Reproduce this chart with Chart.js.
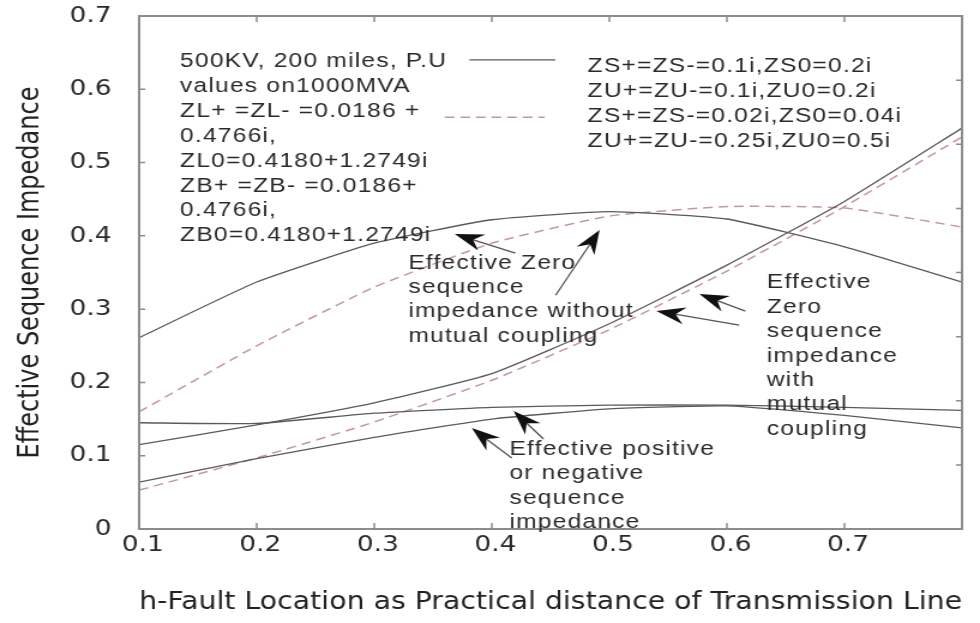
<!DOCTYPE html>
<html>
<head>
<meta charset="utf-8">
<script src="https://cdn.jsdelivr.net/npm/chart.js@4.4.1/dist/chart.umd.min.js"></script>
<style>
body{margin:0;background:#fff}
</style>
</head>
<body>
<!-- the source figure is stretched sideways, so the canvas is too -->
<canvas id="chart" width="817" height="623" style="width:980px;height:623px"></canvas>
<script>
// h - fault location along the line
let faultLoc=[0.1,0.2,0.3,0.4,0.5,0.6,0.7,0.8]
// ZS=0.1i, ZU=0.1i  (solid)
let zeroNoMutual1=[0.261,0.337,0.390,0.422,0.433,0.423,0.385,0.337]
let zeroMutual1=[0.115,0.142,0.172,0.212,0.280,0.360,0.447,0.547]
let posSeq1=[0.145,0.144,0.158,0.166,0.169,0.169,0.166,0.162]
let posSeq2=[0.064,0.096,0.125,0.150,0.164,0.168,0.155,0.138]
// ZS=0.02i, ZU=0.25i  (dashed)
let zeroNoMutual2=[0.160,0.250,0.330,0.390,0.427,0.440,0.438,0.412]
let zeroMutual2=[0.053,0.097,0.146,0.203,0.272,0.352,0.440,0.535]

let xTickLabels=["0.1","0.2","0.3","0.4","0.5","0.6","0.7"]
let yTickLabels=["0","0.1","0.2","0.3","0.4","0.5","0.6","0.7"]

let legendLeft=["500KV, 200 miles, P.U","values on1000MVA","ZL+ =ZL- =0.0186 +","0.4766i,","ZL0=0.4180+1.2749i","ZB+ =ZB- =0.0186+","0.4766i,","ZB0=0.4180+1.2749i"]
let legendRight=["ZS+=ZS-=0.1i,ZS0=0.2i","ZU+=ZU-=0.1i,ZU0=0.2i","ZS+=ZS-=0.02i,ZS0=0.04i","ZU+=ZU-=0.25i,ZU0=0.5i"]

let notes=[
{lines:["Effective Zero","sequence","impedance without","mutual coupling"],at:[0.329,0.363]},
{lines:["Effective","Zero","sequence","impedance","with","mutual","coupling"],at:[0.634,0.336]},
{lines:["Effective positive","or negative","sequence","impedance"],at:[0.415,0.109]}
]
// [tailX, tailY, headX, headY] in data units
let arrows=[
[0.420,0.3765,0.3685,0.4025],
[0.4543,0.319,0.4917,0.408],
[0.6157,0.2974,0.5766,0.3206],
[0.6105,0.2783,0.540,0.2974],
[0.444,0.1228,0.4186,0.161],
[0.417,0.0969,0.383,0.1378]
]

const SOLID="#5a5a5a"
const DASHED="#c4979d"

function pts(vals){
return faultLoc.map((x,i)=>({x:x,y:vals[i]}))
}

function line(label,vals,dashed){
return {
label:label,
data:pts(vals),
borderColor:dashed?DASHED:SOLID,
borderWidth:dashed?1.5:1.3,
borderDash:dashed?[8,5]:[],
pointRadius:0,
tension:0.15,
fill:false
}
}

function drawArrow(ctx,x1,y1,x2,y2){
let ang=Math.atan2(y2-y1,x2-x1)
let len=24,w=8.5
ctx.strokeStyle="#555"
ctx.lineWidth=1.3
ctx.beginPath()
ctx.moveTo(x1,y1)
ctx.lineTo(x2-Math.cos(ang)*len*0.6,y2-Math.sin(ang)*len*0.6)
ctx.stroke()
ctx.save()
ctx.translate(x2,y2)
ctx.rotate(ang)
ctx.beginPath()
ctx.moveTo(0,0)
ctx.lineTo(-len,-w)
ctx.lineTo(-len*0.68,0)
ctx.lineTo(-len,w)
ctx.closePath()
ctx.fillStyle="#111"
ctx.fill()
ctx.restore()
}

const framePlugin={
id:"frame",
afterDatasetsDraw(chart){
let {ctx,chartArea:a,scales}=chart
let x=scales.x,y=scales.y,y2=scales.y2
ctx.save()
ctx.strokeStyle="#8c8c8c"
ctx.lineWidth=1.5
ctx.beginPath()
x.ticks.forEach(t=>{
let px=x.getPixelForValue(t.value)
ctx.moveTo(px,a.bottom);ctx.lineTo(px,a.bottom-6)
ctx.moveTo(px,a.top);ctx.lineTo(px,a.top+6)
})
y.ticks.forEach(t=>{
let py=y.getPixelForValue(t.value)
ctx.moveTo(a.left,py);ctx.lineTo(a.left+5,py)
})
y2.ticks.forEach(t=>{
let py=y2.getPixelForValue(t.value)
ctx.moveTo(a.right,py);ctx.lineTo(a.right-5,py)
})
ctx.stroke()
ctx.lineWidth=2
ctx.strokeRect(a.left,a.top,a.right-a.left,a.bottom-a.top)
ctx.restore()
},
afterDraw(chart){
let {ctx,scales}=chart
let x=scales.x,y=scales.y
ctx.save()
ctx.font='20.5px "Liberation Sans", Arial, sans-serif'
ctx.letterSpacing="1px"
ctx.fillStyle="#2a2a2a"
ctx.textAlign="left"
ctx.textBaseline="middle"
// parameter block (left)
let lx=x.getPixelForValue(0.1348),ly=y.getPixelForValue(0.638)
legendLeft.forEach((t,i)=>ctx.fillText(t,lx,ly+i*24.9))
// case block (right)
let rx=x.getPixelForValue(0.4815),ry=y.getPixelForValue(0.6316)
legendRight.forEach((t,i)=>ctx.fillText(t,rx,ry+i*25))
notes.forEach(n=>{
let nx=x.getPixelForValue(n.at[0]),ny=y.getPixelForValue(n.at[1])
n.lines.forEach((t,i)=>ctx.fillText(t,nx,ny+i*24.4))
})
// legend samples
ctx.lineWidth=1.3
ctx.strokeStyle=SOLID
ctx.beginPath()
ctx.moveTo(x.getPixelForValue(0.381),y.getPixelForValue(0.64))
ctx.lineTo(x.getPixelForValue(0.454),y.getPixelForValue(0.64))
ctx.stroke()
ctx.lineWidth=1.5
ctx.strokeStyle=DASHED
ctx.setLineDash([8,5])
ctx.beginPath()
ctx.moveTo(x.getPixelForValue(0.36),y.getPixelForValue(0.562))
ctx.lineTo(x.getPixelForValue(0.445),y.getPixelForValue(0.562))
ctx.stroke()
ctx.setLineDash([])
arrows.forEach(a=>{
drawArrow(ctx,x.getPixelForValue(a[0]),y.getPixelForValue(a[1]),x.getPixelForValue(a[2]),y.getPixelForValue(a[3]))
})
ctx.restore()
}
}

Chart.defaults.font.family='"DejaVu Sans", sans-serif'
Chart.defaults.color="#2a2a2a"

new Chart(document.getElementById("chart"),{
type:"line",
data:{
datasets:[
line("Zero seq. without mutual coupling (case 1)",zeroNoMutual1,false),
line("Zero seq. with mutual coupling (case 1)",zeroMutual1,false),
line("Positive/negative seq. (case 1)",posSeq1,false),
line("Positive/negative seq. (case 2)",posSeq2,false),
line("Zero seq. without mutual coupling (case 2)",zeroNoMutual2,true),
line("Zero seq. with mutual coupling (case 2)",zeroMutual2,true)
]
},
options:{
responsive:false,
animation:false,
layout:{padding:{top:16,right:15,left:0,bottom:0}},
plugins:{legend:{display:false},tooltip:{enabled:false}},
scales:{
x:{
type:"linear",
min:0.1,
max:0.8,
afterFit:s=>{s.height=94;s.paddingLeft=0;s.paddingRight=0},
ticks:{stepSize:0.1,padding:3,labelOffset:3,font:{size:22},
callback:(v,i)=>xTickLabels[i]??""},
grid:{display:false,drawTicks:false},
border:{display:false},
title:{display:true,text:"h-Fault Location as Practical distance of Transmission Line",
font:{size:24.8},color:"#222",padding:{top:0,bottom:6}}
},
y:{
min:0,
max:0.7,
afterFit:s=>{s.width=116;s.paddingTop=0;s.paddingBottom=0},
ticks:{stepSize:0.1,padding:23,font:{size:22},
callback:(v,i)=>yTickLabels[i]??""},
grid:{display:false,drawTicks:false},
border:{display:false},
title:{display:true,text:"Effective Sequence Impedance",
font:{size:24},color:"#222",padding:{top:11,bottom:0}}
},
y2:{
display:false,
position:"right",
min:0,
max:0.8,
ticks:{stepSize:0.1}
}
}
},
plugins:[framePlugin]
})
</script>
</body>
</html>
